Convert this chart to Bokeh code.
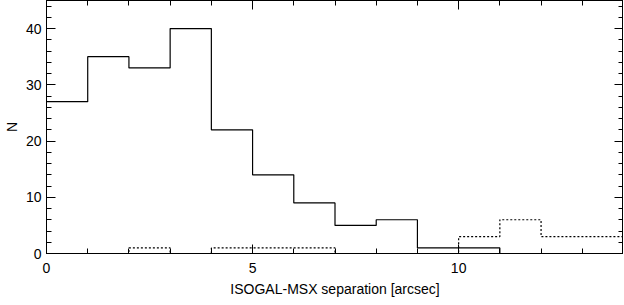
from bokeh.plotting import figure
from bokeh.models import LinearAxis, Range1d, SingleIntervalTicker
from bokeh.embed import file_html
from bokeh.resources import INLINE

bin_edges = [0, 1, 2, 3, 4, 5, 6, 7, 8, 9, 10, 11, 12, 13, 14]
counts_all = [27, 35, 33, 40, 22, 14, 9, 5, 6, 1, 1, 0, 0, 0]
counts_other = [0, 0, 1, 0, 1, 1, 1, 0, 0, 0, 3, 6, 3, 3]

FONT = "Liberation Sans"

p = figure(frame_width=577, frame_height=253, output_backend="svg", toolbar_location=None,
           x_range=Range1d(0, 14), y_range=Range1d(0, 45),
           min_border_left=0, min_border_right=0, min_border_top=0, min_border_bottom=0)
p.background_fill_color = "white"
p.border_fill_color = "white"
p.outline_line_color = "black"
p.outline_line_width = 1
p.grid.visible = False

ys_all = counts_all + [counts_all[-1]]
ys_other = counts_other + [counts_other[-1]]
p.step(x=bin_edges, y=ys_all, mode="after", line_color="black", line_width=1.2)
p.step(x=bin_edges, y=ys_other, mode="after", line_color="black", line_width=1.2, line_dash="2 2")

def style(ax, labels=True, xaxis=True):
    ax.ticker = SingleIntervalTicker(interval=5 if xaxis else 10, num_minor_ticks=5)
    ax.major_tick_in = 9
    ax.major_tick_out = 0
    ax.minor_tick_in = 5
    ax.minor_tick_out = 0
    ax.major_tick_line_color = "black"
    ax.minor_tick_line_color = "black"
    ax.axis_line_color = "black"
    ax.major_label_text_font = FONT
    ax.major_label_text_font_size = "14px"
    ax.major_label_text_color = "black"
    ax.axis_label_text_font = FONT
    ax.axis_label_text_font_size = "14px"
    ax.axis_label_text_font_style = "normal"
    ax.axis_label_text_color = "black"
    if not labels:
        ax.major_label_text_font_size = "0px"
        ax.major_label_text_color = None

xa = p.xaxis[0]
style(xa, True, True)
xa.axis_label = "ISOGAL-MSX separation [arcsec]"
xa.major_label_standoff = 9
xa.axis_label_standoff = 5

ya = p.yaxis[0]
style(ya, True, False)
ya.axis_label = "N"
ya.major_label_standoff = 5
ya.axis_label_standoff = 3

top = LinearAxis()
style(top, False, True)
p.add_layout(top, "above")
right = LinearAxis()
style(right, False, False)
p.add_layout(right, "right")
for ax in (top, right):
    ax.major_label_standoff = 0
    ax.axis_label = None

open("out.html", "w").write(file_html(p, INLINE))
